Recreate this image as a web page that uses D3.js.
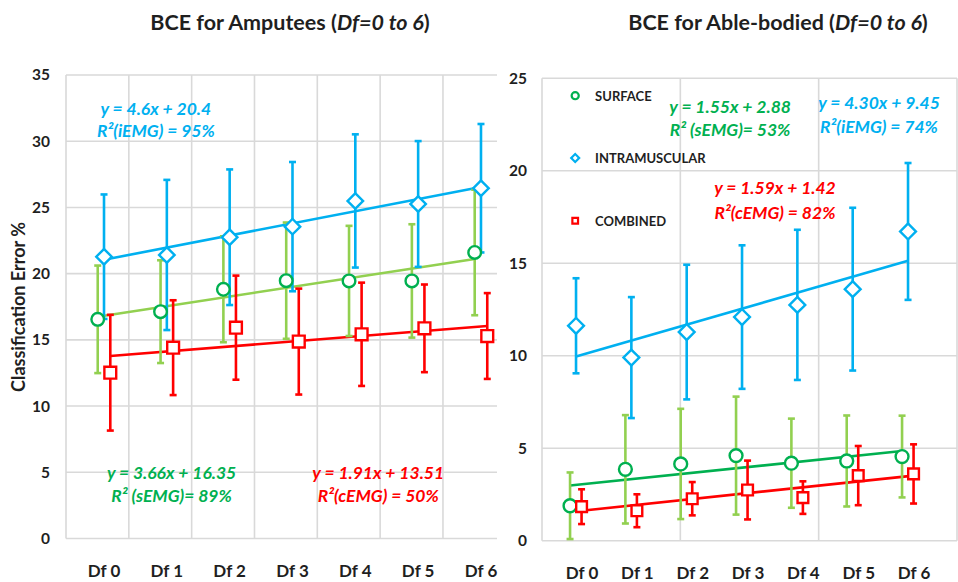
<!DOCTYPE html>
<html>
<head>
<meta charset="utf-8">
<script src="https://cdn.jsdelivr.net/npm/d3@7"></script>
<style>
  body { margin: 0; background: #fff; }
  svg { display: block; }
  text { font-family: Lato, "Open Sans", sans-serif; font-weight: 700; }
</style>
</head>
<body>
<svg id="chart" width="958" height="582"></svg>
<script>
// ---- data ----
const categories = ["Df 0", "Df 1", "Df 2", "Df 3", "Df 4", "Df 5", "Df 6"];
const seriesNames = ["SURFACE", "INTRAMUSCULAR", "COMBINED"];
const panelTitles = [
  ["BCE for Amputees (", "Df=0 to 6", ")"],
  ["BCE for Able-bodied (", "Df=0 to 6", ")"]
];
const yAxisTitle = "Classification Error %";

// Amputees: mean classification error (%) and standard deviation
const ampSurface    = [16.55, 17.13, 18.82, 19.47, 19.45, 19.45, 21.6];
const ampSurfaceSD  = [4.06, 3.88, 4.0, 4.39, 4.16, 4.28, 4.74];
const ampIntra      = [21.28, 21.41, 22.75, 23.55, 25.49, 25.26, 26.45];
const ampIntraSD    = [4.7, 5.67, 5.12, 4.88, 5.03, 4.75, 4.85];
const ampCombined   = [12.52, 14.41, 15.92, 14.87, 15.42, 15.87, 15.29];
const ampCombinedSD = [4.37, 3.58, 3.93, 4.0, 3.9, 3.31, 3.24];
// linear fit values at Df 0 and Df 6
const ampSurfaceFit  = [16.75, 21.1];
const ampIntraFit    = [21.05, 26.55];
const ampCombinedFit = [13.78, 16.05];
const ampYTicks = [0, 5, 10, 15, 20, 25, 30, 35];

// Able-bodied
const ablSurface    = [1.89, 3.86, 4.15, 4.6, 4.19, 4.31, 4.55];
const ablSurfaceSD  = [1.8, 2.93, 2.98, 3.19, 2.41, 2.46, 2.21];
const ablIntra      = [11.62, 9.9, 11.28, 12.09, 12.75, 13.6, 16.72];
const ablIntraSD    = [2.57, 3.27, 3.64, 3.88, 4.06, 4.4, 3.7];
const ablCombined   = [1.84, 1.62, 2.27, 2.74, 2.33, 3.52, 3.61];
const ablCombinedSD = [0.94, 0.89, 0.9, 1.59, 0.88, 1.6, 1.6];
const ablSurfaceFit  = [2.98, 4.85];
const ablIntraFit    = [9.96, 15.13];
const ablCombinedFit = [1.62, 3.52];
const ablYTicks = [0, 5, 10, 15, 20, 25];

// regression labels
const ampSurfaceEq  = ["y = 3.66x + 16.35", "R\u00B2 (sEMG)= 89%"];
const ampIntraEq    = ["y = 4.6x + 20.4", "R\u00B2(iEMG) = 95%"];
const ampCombinedEq = ["y = 1.91x + 13.51", "R\u00B2(cEMG) = 50%"];
const ablSurfaceEq  = ["y = 1.55x + 2.88", "R\u00B2 (sEMG)= 53%"];
const ablIntraEq    = ["y = 4.30x + 9.45", "R\u00B2(iEMG) = 74%"];
const ablCombinedEq = ["y = 1.59x + 1.42", "R\u00B2(cEMG) = 82%"];

// ---- styles ----
const BLUE = "#00B0F0", RED = "#FF0000", DKGREEN = "#00B050", LTGREEN = "#92D050";
const GRID = "#d9d9d9", INK = "#1f1f1f";

const svg = d3.select("#chart");

function markerPath(shape, size) {
  if (shape === "circle") return d3.symbol().type(d3.symbolCircle).size(size)();
  return d3.symbol().type(d3.symbolSquare).size(size)();
}

function drawPanel(p) {
  const g = svg.append("g");
  const x = d3.scaleLinear().domain(p.xDomain).range(p.xRange);
  const y = d3.scaleLinear().domain([0, p.yMax]).range(p.yRange);

  // horizontal grid
  g.selectAll(".hgrid").data(p.yTicks).join("line")
    .attr("x1", x(p.xDomain[0])).attr("x2", x(p.xDomain[1]))
    .attr("y1", d => y(d)).attr("y2", d => y(d))
    .attr("stroke", GRID).attr("stroke-width", 1.6);
  // vertical grid
  g.selectAll(".vgrid").data(p.xGrid).join("line")
    .attr("x1", d => x(d)).attr("x2", d => x(d))
    .attr("y1", y(0)).attr("y2", y(p.yMax))
    .attr("stroke", GRID).attr("stroke-width", 1.6);

  // y tick labels
  const yAxis = g.append("g")
    .attr("transform", `translate(${x(p.xDomain[0])},0)`)
    .call(d3.axisLeft(y).tickValues(p.yTicks).tickSize(0).tickPadding(p.tickPad));
  yAxis.select(".domain").remove();
  yAxis.selectAll("text").attr("font-size", 15.5).attr("fill", INK)
    .style("font-family", "Lato, sans-serif").style("font-weight", 700);

  // x category labels
  g.selectAll(".xl").data(categories).join("text")
    .attr("x", (d, i) => x(i + p.centre) + p.labelShift)
    .attr("y", p.labelY)
    .attr("text-anchor", "middle")
    .attr("dominant-baseline", "central")
    .attr("font-size", 17).attr("fill", INK)
    .text(d => d);

  // trend lines
  p.series.forEach(s => {
    g.append("line")
      .attr("x1", x(s.off + p.centre)).attr("x2", x(6 + s.off + p.centre))
      .attr("y1", y(s.fit[0])).attr("y2", y(s.fit[1]))
      .attr("stroke", s.trend).attr("stroke-width", 2.6);
  });

  // error bars
  p.series.forEach(s => {
    const eb = g.append("g").attr("stroke", s.bar).attr("stroke-width", 2.6).attr("fill", "none");
    s.values.forEach((v, i) => {
      const cx = x(i + s.off + p.centre);
      const lo = y(v - s.sd[i]), hi = y(v + s.sd[i]);
      eb.append("line").attr("x1", cx).attr("x2", cx).attr("y1", lo).attr("y2", hi);
      eb.append("line").attr("x1", cx - 3.5).attr("x2", cx + 3.5).attr("y1", lo).attr("y2", lo);
      eb.append("line").attr("x1", cx - 3.5).attr("x2", cx + 3.5).attr("y1", hi).attr("y2", hi);
    });
  });

  // markers
  p.series.forEach(s => {
    g.selectAll(null).data(s.values).join("path")
      .attr("d", markerPath(s.shape, s.size))
      .attr("transform", (v, i) => `translate(${x(i + s.off + p.centre)},${y(v)})${s.shape === "diamond" ? " rotate(45)" : ""}`)
      .attr("fill", "#fff").attr("stroke", s.marker).attr("stroke-width", 2.4);
  });

  // regression equations
  p.labels.forEach(l => {
    const t = g.append("text")
      .attr("text-anchor", "middle")
      .attr("fill", l.color)
      .attr("font-size", 17.5)
      .style("font-style", "italic");
    l.text.forEach((line, k) => {
      t.append("tspan").attr("x", x(l.x)).attr("y", y(l.y[k]))
        .attr("dominant-baseline", "central").text(line);
    });
  });

  // title: plain bold with italic range
  const title = svg.append("text")
    .attr("x", p.titleX).attr("y", 22)
    .attr("text-anchor", "middle").attr("dominant-baseline", "central")
    .attr("font-size", 21.5).attr("fill", INK);
  p.title.forEach((part, k) => {
    title.append("tspan").style("font-style", k === 1 ? "italic" : "normal").text(part);
  });

  return { x, y, g };
}

// ---- Amputees ----
const left = drawPanel({
  xDomain: [0, 6.86], xRange: [66, 497],
  yMax: 35, yRange: [538.5, 75],
  yTicks: ampYTicks,
  xGrid: [0, 1, 2, 3, 4, 5, 6],
  centre: 0.605, labelShift: 0, labelY: 570, tickPad: 16,
  title: panelTitles[0], titleX: 290,
  series: [
    { values: ampSurface, sd: ampSurfaceSD, fit: ampSurfaceFit, off: -0.1,
      shape: "circle", size: 125, marker: DKGREEN, bar: LTGREEN, trend: LTGREEN },
    { values: ampIntra, sd: ampIntraSD, fit: ampIntraFit, off: 0,
      shape: "diamond", size: 120, marker: BLUE, bar: BLUE, trend: BLUE },
    { values: ampCombined, sd: ampCombinedSD, fit: ampCombinedFit, off: 0.1,
      shape: "square", size: 140, marker: RED, bar: RED, trend: RED }
  ],
  labels: [
    { text: ampIntraEq, color: BLUE, x: 1.43, y: [32.5, 30.78] },
    { text: ampSurfaceEq, color: DKGREEN, x: 1.68, y: [4.95, 3.21] },
    { text: ampCombinedEq, color: RED, x: 4.97, y: [5.0, 3.21] }
  ]
});

// y-axis title
svg.append("text")
  .attr("transform", "translate(18,307) rotate(-90)")
  .attr("text-anchor", "middle").attr("dominant-baseline", "central")
  .attr("font-size", 18).attr("fill", INK)
  .text(yAxisTitle);

// ---- Able-bodied ----
const right = drawPanel({
  xDomain: [0, 7.5], xRange: [542, 957],
  yMax: 25, yRange: [540.7, 78.3],
  yTicks: ablYTicks,
  xGrid: [0, 2.5, 5, 7.5],
  centre: 0.615, labelShift: 6, labelY: 572, tickPad: 15,
  title: panelTitles[1], titleX: 778,
  series: [
    { values: ablSurface, sd: ablSurfaceSD, fit: ablSurfaceFit, off: -0.108,
      shape: "circle", size: 130, marker: DKGREEN, bar: LTGREEN, trend: DKGREEN },
    { values: ablIntra, sd: ablIntraSD, fit: ablIntraFit, off: 0,
      shape: "diamond", size: 125, marker: BLUE, bar: BLUE, trend: BLUE },
    { values: ablCombined, sd: ablCombinedSD, fit: ablCombinedFit, off: 0.1,
      shape: "square", size: 115, marker: RED, bar: RED, trend: RED }
  ],
  labels: [
    { text: ablSurfaceEq, color: DKGREEN, x: 3.40, y: [23.48, 22.22] },
    { text: ablIntraEq, color: BLUE, x: 6.09, y: [23.67, 22.4] },
    { text: ablCombinedEq, color: RED, x: 4.21, y: [19.07, 17.75] }
  ]
});

// legend inside the able-bodied panel
const legendItems = [
  { name: seriesNames[0], shape: "circle", color: DKGREEN, v: 24.06 },
  { name: seriesNames[1], shape: "diamond", color: BLUE, v: 20.69 },
  { name: seriesNames[2], shape: "square", color: RED, v: 17.3 }
];
const lg = right.g.append("g");
legendItems.forEach(it => {
  const cy = right.y(it.v);
  lg.append("path")
    .attr("d", markerPath(it.shape, it.shape === "circle" ? 40 : 32))
    .attr("transform", `translate(${right.x(0.6)},${cy})${it.shape === "diamond" ? " rotate(45)" : ""}`)
    .attr("fill", "#fff").attr("stroke", it.color).attr("stroke-width", 2.2);
  lg.append("text")
    .attr("x", right.x(0.96)).attr("y", cy)
    .attr("dominant-baseline", "central")
    .attr("font-size", 13).attr("fill", INK)
    .text(it.name);
});
</script>
</body>
</html>
